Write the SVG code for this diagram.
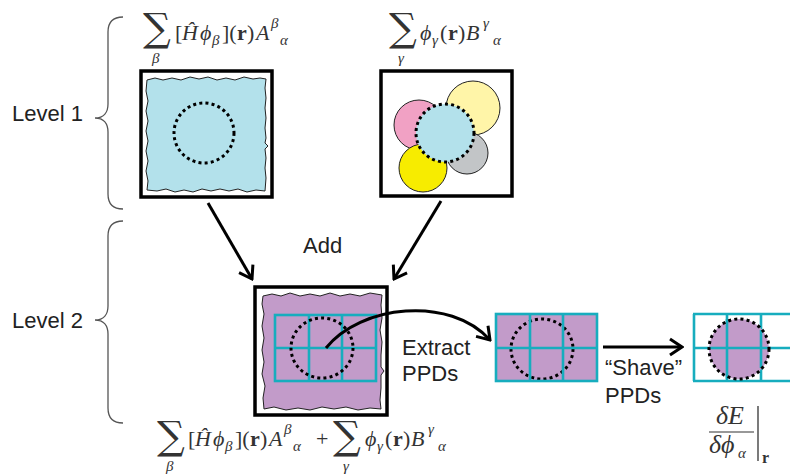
<svg xmlns="http://www.w3.org/2000/svg" width="790" height="474" viewBox="0 0 790 474">
<defs>
<style>
.lbl{font-family:"Liberation Sans",Arial,sans-serif;font-size:22px;fill:#222}
.m{font-family:"Liberation Serif","DejaVu Serif",serif;font-size:22px;fill:#333}
.it{font-style:italic}
.bf{font-weight:bold}
.sub{font-size:15px;font-style:italic}
.sig{font-family:"DejaVu Serif","Liberation Serif",serif;font-size:39px;fill:#333}
.box{fill:#fff;stroke:#000;stroke-width:3.5}
.wavy{stroke:#222;stroke-width:1;stroke-linejoin:round}
.dots{fill:none;stroke:#000;stroke-width:3;stroke-dasharray:3 3.2}
.grid{fill:none;stroke:#17adbe;stroke-width:2.6}
.brace{fill:none;stroke:#555;stroke-width:1.3}
.conn{fill:none;stroke:#000;stroke-width:3;marker-end:url(#ah)}
.circ{stroke:#222;stroke-width:1}
</style>
<marker id="ah" viewBox="-14 -10 16 20" refX="0" refY="0" markerWidth="16" markerHeight="20" markerUnits="userSpaceOnUse" orient="auto">
<path d="M-12,-8 L0,0 L-12,8" fill="none" stroke="#000" stroke-width="3"/>
</marker>
</defs>
<rect width="790" height="474" fill="#fff"/>

<g id="levels">
<text class="lbl" x="12" y="121">Level 1</text>
<text class="lbl" x="12" y="328">Level 2</text>
<path class="brace" d="M123,17 C113,17 108,22 108,32 L108,104 C108,112 104,118 95,118 C104,118 108,124 108,132 L108,194 C108,204 113,209 123,209"/>
<path class="brace" d="M123,221 C113,221 108,226 108,236 L108,306 C108,314 104,320 95,320 C104,320 108,326 108,334 L108,408 C108,418 113,423 123,423"/>
</g>

<g id="node-hphi">
<rect class="box" x="141" y="71" width="131" height="126"/>
<path class="wavy" fill="#b3e1eb" d="M147,80 L155,78 L163,80 L172,78 L181,80 L190,77 L199,79 L208,77 L217,80 L226,78 L235,80 L244,77 L253,79 L260,78 L266,79 L265,88 L266,98 L265,108 L266,118 L265,128 L266,138 L265,143 L268,146 L265,149 L266,158 L265,168 L266,178 L265,191 L256,190 L247,192 L238,189 L229,191 L220,189 L211,191 L202,189 L193,192 L184,190 L175,192 L166,189 L157,191 L147,190 L148,181 L146,171 L148,161 L146,151 L148,141 L146,131 L148,121 L146,111 L148,101 L146,91 Z"/>
<circle class="dots" cx="204" cy="133" r="30"/>
<text class="sig" x="143" y="41">∑</text>
<text class="m sub" x="152" y="63">β</text>
<text class="m" y="40"><tspan x="175">[</tspan><tspan class="it" x="182">Ĥ</tspan><tspan class="it" x="200">ϕ</tspan><tspan class="sub" x="212" y="45">β</tspan><tspan x="222" y="40">](</tspan><tspan class="bf" x="237">r</tspan><tspan x="247">)</tspan><tspan class="it" x="256">A</tspan><tspan class="sub" x="271" y="28">β</tspan><tspan class="sub" x="280" y="45">α</tspan></text>
</g>

<g id="node-basis">
<rect class="box" x="381" y="71" width="131" height="125"/>
<circle class="circ" cx="419" cy="125" r="25" fill="#f1a1c4"/>
<circle class="circ" cx="473" cy="108" r="27" fill="#fff5a8"/>
<circle class="circ" cx="467" cy="153" r="21" fill="#c2c5c7"/>
<circle class="circ" cx="423" cy="168" r="24" fill="#f7ec00"/>
<circle cx="445" cy="133" r="29" fill="#b3e1eb"/>
<circle class="dots" cx="445" cy="133" r="29"/>
<text class="sig" x="389" y="41">∑</text>
<text class="m sub" x="398" y="63">γ</text>
<text class="m" y="40"><tspan class="it" x="420">ϕ</tspan><tspan class="sub" x="432" y="45">γ</tspan><tspan x="440" y="40">(</tspan><tspan class="bf" x="448">r</tspan><tspan x="458">)</tspan><tspan class="it" x="466">B</tspan><tspan class="sub" x="483" y="28">γ</tspan><tspan class="sub" x="493" y="45">α</tspan></text>
</g>

<g id="node-sum">
<rect class="box" x="255" y="287" width="132" height="128"/>
<path class="wavy" fill="#c29bc9" d="M263,296 L272,294 L281,296 L290,293 L300,296 L310,294 L320,296 L330,293 L340,296 L350,294 L360,296 L370,293 L382,295 L381,305 L382,318 L380,330 L382,342 L381,355 L381,367 L384,371 L381,375 L381,388 L380,400 L381,409 L370,408 L358,410 L346,407 L334,409 L322,407 L310,410 L298,408 L286,410 L274,407 L264,409 L263,398 L265,386 L262,374 L264,362 L262,350 L264,338 L262,326 L264,314 L262,304 Z"/>
<g class="grid"><rect x="275" y="315" width="101" height="66"/><line x1="309" y1="315" x2="309" y2="381"/><line x1="342" y1="315" x2="342" y2="381"/><line x1="275" y1="348" x2="376" y2="348"/></g>
<ellipse class="dots" cx="322" cy="348" rx="31" ry="30"/>
<text class="sig" x="157" y="449">∑</text>
<text class="m sub" x="166" y="471">β</text>
<text class="m" y="446"><tspan x="188">[</tspan><tspan class="it" x="195">Ĥ</tspan><tspan class="it" x="213">ϕ</tspan><tspan class="sub" x="225" y="451">β</tspan><tspan x="235" y="446">](</tspan><tspan class="bf" x="250">r</tspan><tspan x="260">)</tspan><tspan class="it" x="269">A</tspan><tspan class="sub" x="284" y="434">β</tspan><tspan class="sub" x="293" y="451">α</tspan><tspan x="316" y="446">+</tspan></text>
<text class="sig" x="333" y="449">∑</text>
<text class="m sub" x="343" y="471">γ</text>
<text class="m" y="446"><tspan class="it" x="365">ϕ</tspan><tspan class="sub" x="377" y="451">γ</tspan><tspan x="385" y="446">(</tspan><tspan class="bf" x="393">r</tspan><tspan x="403">)</tspan><tspan class="it" x="411">B</tspan><tspan class="sub" x="428" y="434">γ</tspan><tspan class="sub" x="438" y="451">α</tspan></text>
</g>

<g id="node-ppd">
<rect x="496" y="314" width="101" height="67" fill="#c29bc9"/>
<ellipse class="dots" cx="542" cy="349" rx="31" ry="30"/>
<g class="grid"><rect x="496" y="314" width="101" height="67"/><line x1="530" y1="314" x2="530" y2="381"/><line x1="563" y1="314" x2="563" y2="381"/><line x1="496" y1="348" x2="597" y2="348"/></g>
</g>

<g id="node-shaved">
<g class="grid"><line x1="693" y1="314" x2="790" y2="314"/><line x1="693" y1="348" x2="790" y2="348"/><line x1="693" y1="381" x2="790" y2="381"/><line x1="694" y1="314" x2="694" y2="381"/><line x1="727" y1="314" x2="727" y2="381"/><line x1="761" y1="314" x2="761" y2="381"/></g>
<circle cx="739" cy="349" r="30" fill="#c29bc9"/>
<g class="grid"><line x1="727" y1="319" x2="727" y2="379"/><line x1="761" y1="330" x2="761" y2="368"/><line x1="709" y1="348" x2="769" y2="348"/></g>
<circle class="dots" cx="739" cy="349" r="30"/>
<text class="m it" x="730" y="424" text-anchor="middle" style="font-size:26px">δE</text>
<line x1="709" y1="432" x2="754" y2="432" stroke="#333" stroke-width="1.2"/>
<text class="m" y="453" style="font-size:26px"><tspan class="it" x="709">δϕ</tspan><tspan class="sub" x="738" y="458">α</tspan></text>
<line x1="758" y1="406" x2="758" y2="461" stroke="#333" stroke-width="1.3"/>
<text class="m bf" x="762" y="463" style="font-size:16px">r</text>
</g>

<g id="labels">
<text class="lbl" x="303" y="253">Add</text>
<text class="lbl" x="402" y="355">Extract</text>
<text class="lbl" x="402" y="381">PPDs</text>
<text class="lbl" x="605" y="375">“Shave”</text>
<text class="lbl" x="605" y="403">PPDs</text>
</g>

<g id="connectors">
<line class="conn" x1="208" y1="203" x2="252" y2="279"/>
<line class="conn" x1="441" y1="201" x2="394" y2="279"/>
<path class="conn" d="M326,348 C360,305 450,295 490,340"/>
<line class="conn" x1="603" y1="347" x2="682" y2="347"/>
</g>
</svg>
